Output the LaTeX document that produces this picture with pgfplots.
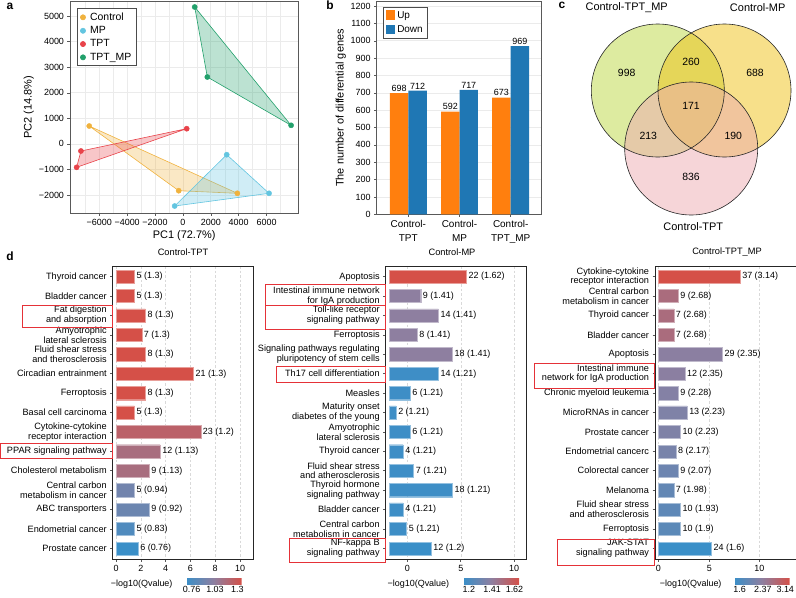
\documentclass[border=0pt]{standalone}
\usepackage{fontspec}
\setmainfont{Liberation Sans}
\usepackage{pgfplots}
\usepackage{pgfplotstable}
\pgfplotsset{compat=1.18}

\definecolor{cCtrl}{HTML}{F0B23E}
\definecolor{cMP}{HTML}{63C5E0}
\definecolor{cTPT}{HTML}{E8434A}
\definecolor{cTM}{HTML}{22A06B}
\definecolor{cUp}{HTML}{FF7F0E}
\definecolor{cDown}{HTML}{1F77B4}
\definecolor{gridc}{HTML}{EBEBEB}
\definecolor{vG}{RGB}{187,215,65}
\definecolor{vY}{RGB}{239,193,21}
\definecolor{vP}{RGB}{237,171,177}
\definecolor{boxred}{HTML}{E53238}
\definecolor{qB}{RGB}{58,143,200}
\definecolor{qM}{RGB}{142,127,160}
\definecolor{qR}{RGB}{213,80,72}

\def\ftick{\fontsize{9}{10.5}\selectfont}
\def\fcat{\fontsize{9.2}{9.8}\selectfont}
\def\flab{\fontsize{11}{13}\selectfont}
\def\fpanel{\fontsize{12}{14}\selectfont\bfseries}

\pgfplotsset{
  colormap={qmap}{rgb255=(58,143,200) rgb255=(142,127,160) rgb255=(213,80,72)},
  base/.style={scale only axis, tick align=outside, tick pos=left,
    major tick length=2.5bp, tick style={black!65, line width=0.5bp},
    axis line style={black!65, line width=0.8bp},
    ticklabel style={font=\ftick}, label style={font=\flab},
    /pgf/number format/assume math mode=true,
    /pgf/number format/1000 sep={}},
  enr/.style={base, xbar, bar width=0.68, y dir=reverse,
    ymin=-0.55, ymax=14.55, ytick={0,...,14}, height=293bp,
    xmajorgrids, major grid style={black!15, dash pattern=on 2.5bp off 2bp, line width=0.4bp},
    axis line style={black!85, line width=0.8bp},
    yticklabel style={font=\fcat, align=right},
    xticklabel style={font=\ftick},
    clip=false, colormap name=qmap, point meta=explicit,
    visualization depends on={\thisrow{n} \as \nval},
    visualization depends on={\thisrow{q} \as \qval},
    nodes near coords={\pgfmathprintnumber{\nval}\ (\pgfmathprintnumber{\qval})},
    nodes near coords align={horizontal},
    every node near coord/.append style={font=\ftick, text=black, inner sep=2bp, anchor=west},
    colorbar horizontal},
  cbar/.style={scale only axis, width=55.7bp, height=6bp,
    at={(parent axis.south west)}, anchor=north west, yshift=-11.3bp,
    major tick length=0pt, axis line style={draw=none},
    xticklabel style={font=\ftick, inner sep=1.5bp}},
  grp/.style 2 args={draw=#2, line width=0.4bp, bar shift=0pt,
    x filter/.expression={\thisrow{g}==#1 ? x : nan}},
}

% panel d tables: row (top = 0), gene count, Qvalue, colour group
\pgfplotstableread[col sep=comma]{
i,n,q,g
0,5,1.3,1
1,5,1.3,1
2,8,1.3,1
3,7,1.3,1
4,8,1.3,1
5,21,1.3,1
6,8,1.3,1
7,5,1.3,1
8,23,1.2,2
9,12,1.13,3
10,9,1.13,3
11,5,0.94,4
12,9,0.92,5
13,5,0.83,6
14,6,0.76,7
}\tabL
\pgfplotstableread[col sep=comma]{
i,n,q,g
0,22,1.62,1
1,9,1.41,2
2,14,1.41,2
3,8,1.41,2
4,18,1.41,2
5,14,1.21,3
6,6,1.21,3
7,2,1.21,3
8,6,1.21,3
9,4,1.21,3
10,7,1.21,3
11,18,1.21,3
12,4,1.21,3
13,5,1.21,3
14,12,1.2,4
}\tabM
\pgfplotstableread[col sep=comma]{
i,n,q,g
0,37,3.14,1
1,9,2.68,2
2,7,2.68,2
3,7,2.68,2
4,29,2.35,3
5,12,2.35,3
6,9,2.28,4
7,13,2.23,5
8,10,2.23,5
9,8,2.17,6
10,9,2.07,7
11,7,1.98,8
12,10,1.93,9
13,10,1.9,10
14,24,1.6,11
}\tabR

\newcommand\gbar[3]{\addplot[fill=#2, grp={#3}{#2!55!white}] table[x=n, y=i, meta=q] {#1};}

\begin{document}
\begin{tikzpicture}
\useasboundingbox (0,0) rectangle (796bp,-598bp);

% ---------------- a: PCA
\begin{axis}[base, at={(70bp,-213bp)}, anchor=south west,
  width=228.3bp, height=211.5bp,
  xmin=-8099, xmax=8278, ymin=-2702, ymax=5569,
  xtick={-6000,-4000,...,6000},
  xticklabels={−6000,−4000,−2000,0,2000,4000,6000},
  minor xtick={-7000,-5000,...,7000},
  ytick={-2000,-1000,...,5000},
  yticklabels={−2000,−1000,0,1000,2000,3000,4000,5000},
  grid=both, major grid style={gridc, line width=0.6bp},
  minor grid style={gridc, line width=0.4bp}, minor tick length=0pt,
  xlabel={PC1 (72.7\%)}, ylabel={PC2 (14.8\%)},
  xlabel style={yshift=2bp}, ylabel style={yshift=-2bp},
  legend style={at={(axis description cs:0.031,0.967)}, anchor=north west,
    draw=black!70, line width=0.6bp, font=\fontsize{10.5}{12}\selectfont,
    inner xsep=3bp, inner ysep=2bp, row sep=0.6bp,
    /tikz/every odd column/.append style={column sep=2.5bp}},
  legend image code/.code={\draw[#1] plot coordinates {(0.25cm,0cm)};},
  legend cell align=left,
]
\addplot[draw=cCtrl, fill=cCtrl, fill opacity=0.3, line width=0.6bp, forget plot]
  coordinates {(-6720,700)(-300,-1830)(3905,-1932)} -- cycle;
\addplot[draw=cMP, fill=cMP, fill opacity=0.3, line width=0.6bp, forget plot]
  coordinates {(3144,-422)(-590,-2429)(6180,-1932)} -- cycle;
\addplot[draw=cTPT, fill=cTPT, fill opacity=0.3, line width=0.6bp, forget plot]
  coordinates {(272,595)(-7315,-278)(-7624,-916)} -- cycle;
\addplot[draw=cTM, fill=cTM, fill opacity=0.3, line width=0.6bp, forget plot]
  coordinates {(847,5354)(1752,2616)(7760,727)} -- cycle;
\addplot[only marks, mark=*, mark size=2.6bp, color=cCtrl]
  coordinates {(-6720,700)(-300,-1830)(3905,-1932)};
\addlegendentry{Control}
\addplot[only marks, mark=*, mark size=2.6bp, color=cMP]
  coordinates {(3144,-422)(-590,-2429)(6180,-1932)};
\addlegendentry{MP}
\addplot[only marks, mark=*, mark size=2.6bp, color=cTPT]
  coordinates {(272,595)(-7315,-278)(-7624,-916)};
\addlegendentry{TPT}
\addplot[only marks, mark=*, mark size=2.6bp, color=cTM]
  coordinates {(847,5354)(1752,2616)(7760,727)};
\addlegendentry{TPT\_MP}
\end{axis}

% ---------------- b: DEG counts
\begin{axis}[base, at={(376.7bp,-214.3bp)}, anchor=south west,
  width=165bp, height=212.6bp,
  ybar, bar width=0.361,
  xmin=0.383, xmax=3.605, ymin=0, ymax=1225,
  xtick={1,2,3},
  xticklabels={{Control-\\TPT},{Control-\\MP},{Control-\\TPT\_MP}},
  xticklabel style={align=center, font=\fontsize{10}{14}\selectfont},
  ytick={0,100,...,1200},
  ymajorgrids, major grid style={gridc, line width=0.6bp},
  ylabel={The number of differential genes}, ylabel style={yshift=-2bp},
  nodes near coords,
  every node near coord/.append style={font=\ftick, inner sep=1.5bp},
  legend style={at={(axis description cs:0.038,0.975)}, anchor=north west,
    draw=black!70, line width=0.6bp, font=\fontsize{10}{11}\selectfont,
    inner xsep=2.5bp, inner ysep=2bp, row sep=2bp},
  legend cell align=left,
  legend image code/.code={\fill[#1] (0bp,-4.5bp) rectangle (9.5bp,5bp);},
]
\addplot[fill=cUp, draw=none, bar shift=-0.1805] coordinates {(1,698)(2,592)(3,673)};
\addlegendentry{Up}
\addplot[fill=cDown, draw=none, bar shift=0.1805] coordinates {(1,712)(2,717)(3,969)};
\addlegendentry{Down}
\end{axis}

% ---------------- c: Venn
\begin{axis}[at={(560bp,0bp)}, anchor=north west, scale only axis,
  width=236bp, height=240bp, xmin=560, xmax=796, ymin=0, ymax=240,
  y dir=reverse, hide axis, clip=false]
\fill[vG, fill opacity=0.5] (axis cs:657.8,90.5) circle[radius=66.5];
\fill[vY, fill opacity=0.5] (axis cs:724.5,90.5) circle[radius=66.5];
\fill[vP, fill opacity=0.5] (axis cs:691.2,148.5) circle[radius=66.5];
\draw[black!85, line width=0.6bp] (axis cs:657.8,90.5) circle[radius=66.5];
\draw[black!85, line width=0.6bp] (axis cs:724.5,90.5) circle[radius=66.5];
\draw[black!85, line width=0.6bp] (axis cs:691.2,148.5) circle[radius=66.5];
\node[font=\fontsize{10.5}{12}\selectfont] at (axis cs:626.7,73.3) {998};
\node[font=\fontsize{10.5}{12}\selectfont] at (axis cs:691,61.7) {260};
\node[font=\fontsize{10.5}{12}\selectfont] at (axis cs:755,73.3) {688};
\node[font=\fontsize{10.5}{12}\selectfont] at (axis cs:691,106) {171};
\node[font=\fontsize{10.5}{12}\selectfont] at (axis cs:648.3,135.7) {213};
\node[font=\fontsize{10.5}{12}\selectfont] at (axis cs:733.3,135.7) {190};
\node[font=\fontsize{10.5}{12}\selectfont] at (axis cs:691,176.7) {836};
\node[font=\flab] at (axis cs:626.7,7.3) {Control-TPT\_MP};
\node[font=\flab] at (axis cs:757.7,7.3) {Control-MP};
\node[font=\flab] at (axis cs:693.3,226.7) {Control-TPT};
\end{axis}

% ---------------- d: KEGG enrichment, Control-TPT
\begin{axis}[enr, at={(112.7bp,-559bp)}, anchor=south west, width=140.3bp,
  xmin=-0.9, xmax=37.2,
  xtick={0,6.73,13.47,20.20,26.94,33.67}, xticklabels={0,2,4,6,8,10},
  yticklabels={{Thyroid cancer},{Bladder cancer},{Fat digestion\\and absorption},
    {Amyotrophic\\lateral sclerosis},{Fluid shear stress\\and therosclerosis},
    {Circadian entrainment},{Ferroptosis},{Basal cell carcinoma},
    {Cytokine-cytokine\\receptor interaction},{PPAR signaling pathway},
    {Cholesterol metabolism},{Central carbon\\metabolism in cancer},
    {ABC transporters},{Endometrial cancer},{Prostate cancer}},
  point meta min=0.76, point meta max=1.3,
  colorbar style={cbar, xshift=73.3bp,
    xtick={0.814,1.041,1.257}, xticklabels={0.76,1.03,1.3}},
]
\gbar{\tabL}{qR}{1}
\gbar{\tabL}{qR!63!qM}{2}
\gbar{\tabL}{qR!37!qM}{3}
\gbar{\tabL}{qM!67!qB}{4}
\gbar{\tabL}{qM!59!qB}{5}
\gbar{\tabL}{qM!26!qB}{6}
\gbar{\tabL}{qB}{7}
\end{axis}

% ---------------- d: Control-MP
\begin{axis}[enr, at={(385.7bp,-559bp)}, anchor=south west, width=141bp,
  xmin=-0.94, xmax=39.1,
  xtick={5.2,20.37,35.5}, xticklabels={0,5,10},
  yticklabels={{Apoptosis},{Intestinal immune network\\for IgA production},
    {Toll-like receptor\\signaling pathway},{Ferroptosis},
    {Signaling pathways regulating\\pluripotency of stem cells},
    {Th17 cell differentiation},{Measles},{Maturity onset\\diabetes of the young},
    {Amyotrophic\\lateral sclerosis},{Thyroid cancer},
    {Fluid shear stress\\and atherosclerosis},{Thyroid hormone\\signaling pathway},
    {Bladder cancer},{Central carbon\\metabolism in cancer},
    {NF-kappa B\\signaling pathway}},
  point meta min=1.2, point meta max=1.62,
  colorbar style={cbar, xshift=77.6bp,
    xtick={1.242,1.418,1.586}, xticklabels={1.2,1.41,1.62}},
]
\gbar{\tabM}{qR}{1}
\gbar{\tabM}{qM}{2}
\gbar{\tabM}{qM!5!qB}{3}
\gbar{\tabM}{qB}{4}
\end{axis}

% ---------------- d: Control-TPT_MP
\begin{axis}[enr, at={(655bp,-559bp)}, anchor=south west, width=141bp,
  xmin=-1.5, xmax=62.3,
  xtick={0,23.1,45.7}, xticklabels={0,5,10},
  yticklabels={{Cytokine-cytokine\\receptor interaction},{Central carbon\\metabolism in cancer},
    {Thyroid cancer},{Bladder cancer},{Apoptosis},
    {Intestinal immune\\network for IgA production},{Chronic myeloid leukemia},
    {MicroRNAs in cancer},{Prostate cancer},{Endometrial cancerc},
    {Colorectal cancer},{Melanoma},{Fluid shear stress\\and atherosclerosis},
    {Ferroptosis},{JAK-STAT\\signaling pathway}},
  point meta min=1.6, point meta max=3.14,
  colorbar style={cbar, xshift=79bp,
    xtick={1.754,2.40,3.017}, xticklabels={1.6,2.37,3.14}},
]
\gbar{\tabR}{qR}{1}
\gbar{\tabR}{qR!40!qM}{2}
\gbar{\tabR}{qM!97!qB}{3}
\gbar{\tabR}{qM!88!qB}{4}
\gbar{\tabR}{qM!82!qB}{5}
\gbar{\tabR}{qM!74!qB}{6}
\gbar{\tabR}{qM!61!qB}{7}
\gbar{\tabR}{qM!49!qB}{8}
\gbar{\tabR}{qM!43!qB}{9}
\gbar{\tabR}{qM!39!qB}{10}
\gbar{\tabR}{qB}{11}
\end{axis}

% ---------------- titles, legend titles, highlight boxes, panel letters
\node[font=\fontsize{9.3}{11}\selectfont] at (183bp,-252bp) {Control-TPT};
\node[font=\fontsize{9.3}{11}\selectfont] at (452bp,-252bp) {Control-MP};
\node[font=\fontsize{9.3}{11}\selectfont] at (727bp,-252bp) {Control-TPT\_MP};
\node[font=\ftick, anchor=east] at (176bp,-584bp) {−log10(Qvalue)};
\node[font=\ftick, anchor=east] at (452.7bp,-584bp) {−log10(Qvalue)};
\node[font=\ftick, anchor=east] at (725bp,-584bp) {−log10(Qvalue)};

\begin{scope}[boxred, line width=0.8bp]
\draw (22.3bp,-305bp) rectangle (112.3bp,-327.3bp);
\draw (0.7bp,-443.3bp) rectangle (112.3bp,-458.3bp);
\draw (265.7bp,-284bp) rectangle (385.7bp,-305.7bp);
\draw (265.7bp,-305.7bp) rectangle (385.7bp,-329.3bp);
\draw (276.7bp,-366.7bp) rectangle (385.7bp,-382.3bp);
\draw (289bp,-538.3bp) rectangle (385.7bp,-562.7bp);
\draw (534bp,-363.3bp) rectangle (654bp,-388.3bp);
\draw (557.7bp,-539.3bp) rectangle (654bp,-565bp);
\end{scope}

\node[font=\fpanel] at (10bp,-6bp) {a};
\node[font=\fpanel] at (330bp,-5bp) {b};
\node[font=\fpanel] at (562bp,-5bp) {c};
\node[font=\fpanel] at (10bp,-256bp) {d};
\end{tikzpicture}
\end{document}
